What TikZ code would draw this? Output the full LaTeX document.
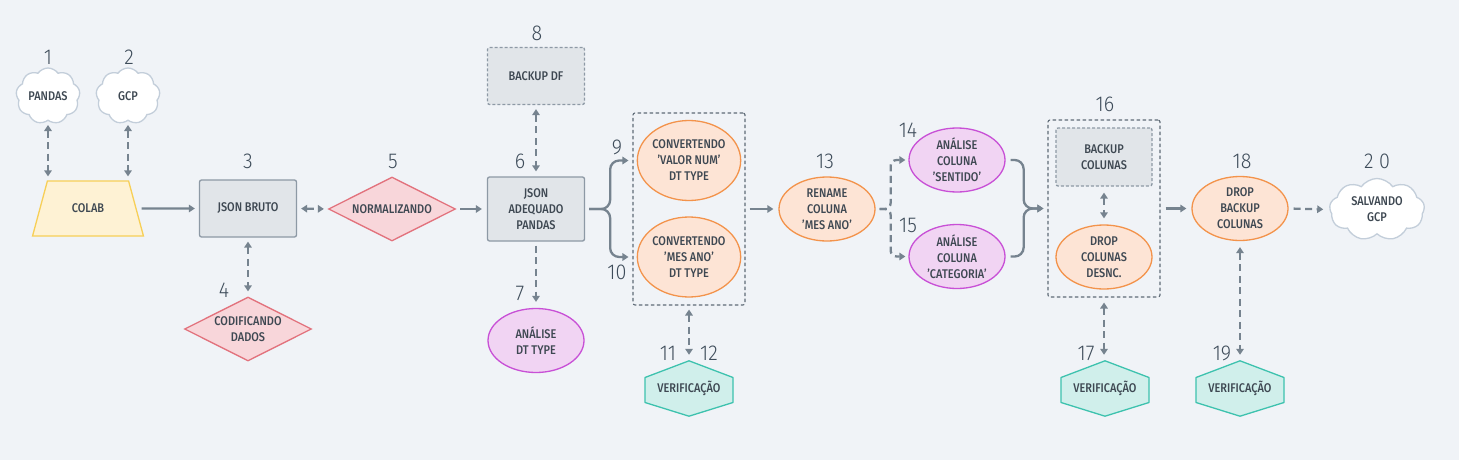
\documentclass[tikz,border=0pt]{standalone}
\usepackage{fontspec}
\setmainfont{Fira Sans Medium}[FakeStretch=0.87]
\newfontfamily\numfont{Fira Sans Light}[FakeStretch=0.92]
\usetikzlibrary{shapes.geometric,shapes.symbols,arrows.meta,calc}
\definecolor{bgc}{HTML}{F0F3F7}
\definecolor{textc}{HTML}{3E4852}
\definecolor{numc}{HTML}{3E4C5A}
\definecolor{arrc}{HTML}{76838F}
\definecolor{boxf}{HTML}{E1E5E9}
\definecolor{boxb}{HTML}{8D99A5}
\definecolor{grpc}{HTML}{5F6B77}
\definecolor{colf}{HTML}{FEF2D4}
\definecolor{colb}{HTML}{F7CF57}
\definecolor{diaf}{HTML}{F8D6DA}
\definecolor{diab}{HTML}{E2717C}
\definecolor{orf}{HTML}{FDE4D5}
\definecolor{orb}{HTML}{F3934B}
\definecolor{puf}{HTML}{F1D4F3}
\definecolor{pub}{HTML}{C850D6}
\definecolor{tef}{HTML}{D0EFEB}
\definecolor{teb}{HTML}{3DC2AE}
\definecolor{cldb}{HTML}{C3CEDA}
\pgfdeclarelayer{bottom}
\pgfdeclarelayer{back}
\pgfsetlayers{bottom,back,main}
\begin{document}
\begin{tikzpicture}[x=1pt,y=-1pt,
  txt/.style={font=\fontsize{12.6}{16}\selectfont, text=textc, align=center},
  num/.style={font=\numfont\fontsize{21.5}{21.5}\selectfont, text=numc, inner sep=0},
  graybox/.style={txt, draw=boxb, fill=boxf, line width=1.3pt, rounded corners=2pt, minimum width=97, minimum height=57},
  dgraybox/.style={graybox, dash pattern=on 3pt off 2pt},
  grp/.style={draw=grpc, dash pattern=on 3.5pt off 2.5pt, line width=1.1pt, rounded corners=2pt, minimum width=112},
  diam/.style={txt, diamond, aspect=2, draw=diab, fill=diaf, line width=1.3pt, inner sep=0, minimum width=127, minimum height=64},
  oell/.style={txt, ellipse, draw=orb, fill=orf, line width=1.3pt, inner sep=0, minimum width=96, minimum height=64},
  pell/.style={txt, ellipse, draw=pub, fill=puf, line width=1.3pt, inner sep=0, minimum width=96, minimum height=64},
  cld/.style={txt, cloud, cloud puffs=9, cloud puff arc=110, cloud ignores aspect, draw=cldb, fill=white, line width=1.3pt, inner sep=0, minimum width=64, minimum height=56},
  trap/.style={txt, trapezium, trapezium left angle=57, trapezium right angle=57, trapezium stretches=true, draw=colb, fill=colf, line width=1.3pt, minimum width=111, minimum height=55, inner sep=0},
  hexn/.style={txt, minimum width=88, minimum height=55, inner sep=0},
  hexs/.style={draw=teb, fill=tef, line width=1.3pt, line join=round},
  conn/.style={draw=arrc, line width=2.3pt, -{Triangle[length=6pt,width=7.5pt]}, shorten >=4pt, shorten <=4pt},
  dconn/.style={conn, dash pattern=on 7pt off 4.5pt},
  dd/.style={dconn, {Triangle[length=6pt,width=7.5pt]}-{Triangle[length=6pt,width=7.5pt]}}
]
\begin{pgfonlayer}{bottom}
\fill[bgc] (0,0) rectangle (1459,460);
\end{pgfonlayer}
\useasboundingbox (0,0) rectangle (1459,460);

% nodes
\node[cld] (pan) at (48,96) {PANDAS};
\node[cld] (gcp) at (128,96) {GCP};
\node[trap] (col) at (88,208.5) {COLAB};
\node[graybox] (jb) at (248,208.5) {JSON BRUTO};
\node[diam] (norm) at (392,209) {NORMALIZANDO};
\node[diam] (cod) at (248,329) {CODIFICANDO\\DADOS};
\node[graybox, minimum height=64] (ja) at (536,209) {JSON\\ADEQUADO\\PANDAS};
\node[dgraybox] (bk) at (536,76) {BACKUP DF};
\node[pell] (dt) at (536,340.5) {ANÁLISE\\DT TYPE};
\node[grp, minimum height=192] (g1) at (689,209) {};
\node[oell, minimum height=80] (e1) at (689,160.5) {CONVERTENDO\\'VALOR NUM'\\DT TYPE};
\node[oell, minimum height=80] (e2) at (689,257) {CONVERTENDO\\'MES ANO'\\DT TYPE};
\node[hexn] (v11) at (689,388.5) {VERIFICAÇÃO};
\node[oell] (rn) at (827,209) {RENAME\\COLUNA\\'MES ANO'};
\node[pell] (a14) at (957,160) {ANÁLISE\\COLUNA\\'SENTIDO'};
\node[pell] (a15) at (957,256.5) {ANÁLISE\\COLUNA\\'CATEGORIA'};
\node[grp, minimum height=177] (g2) at (1104,208.5) {};
\node[dgraybox, minimum width=96, minimum height=58] (bc) at (1104,157) {BACKUP\\COLUNAS};
\node[oell] (dc) at (1104,257) {DROP\\COLUNAS\\DESNC.};
\node[hexn] (v17) at (1105,388.5) {VERIFICAÇÃO};
\node[oell] (db) at (1240,208.5) {DROP\\BACKUP\\COLUNAS};
\node[hexn] (v19) at (1240,388.5) {VERIFICAÇÃO};
\node[cld, minimum width=95, minimum height=62] (sal) at (1377,209.5) {SALVANDO\\GCP};

% hexagons
\begin{pgfonlayer}{back}
\foreach \h in {v11,v17,v19}{
  \draw[hexs] (\h.north) -- ($(\h.center)+(44,-11)$) -- ($(\h.center)+(44,14)$) -- (\h.south)
    -- ($(\h.center)+(-44,14)$) -- ($(\h.center)+(-44,-11)$) -- cycle;
}
\end{pgfonlayer}

% numbers
\node[num] (n1) at (48,57) {1};
\node[num] (n2) at (129,57) {2};
\node[num] (n3) at (248,161) {3};
\node[num] (n4) at (224,290) {4};
\node[num] (n5) at (393,161) {5};
\node[num] (n6) at (520,161) {6};
\node[num] (n7) at (520,293) {7};
\node[num] (n8) at (537,33) {8};
\node[num] (n9) at (617,147) {9};
\node[num] (n10) at (617,272) {10};
\node[num] (n11) at (668,353) {11};
\node[num] (n12) at (709,353) {12};
\node[num] (n13) at (825,161) {13};
\node[num] (n14) at (908,130) {14};
\node[num] (n15) at (908,225) {15};
\node[num] (n16) at (1105,104) {16};
\node[num] (n17) at (1086,353) {17};
\node[num] (n18) at (1242,161) {18};
\node[num] (n19) at (1222,353) {19};
\node[num] (n20) at (1377,161) {2 0};

% connectors
\draw[dd] (pan.south) -- (pan.south |- col.north);
\draw[dd] (gcp.south) -- (gcp.south |- col.north);
\draw[conn, shorten <=5pt] (col.east) -- (jb.west);
\draw[dd] (jb.east) -- (norm.west);
\draw[dd, shorten >=5pt] (jb.south) -- (cod.north);
\draw[conn, shorten >=5pt] (norm.east) -- (ja.west);
\draw[dd, shorten >=5pt] (bk.south) -- (ja.north);
\draw[dconn, shorten >=6pt] (ja.south) -- (dt.north);
\draw[conn, rounded corners=9pt] (ja.east) -- ++(25,0) |- (g1.west |- e1.center);
\draw[conn, rounded corners=9pt] (ja.east) -- ++(25,0) |- (g1.west |- e2.center);
\draw[conn, shorten >=5pt] (g1.east) -- (rn.west);
\draw[dd, shorten >=6pt] (g1.south) -- (v11.north);
\draw[dconn, rounded corners=6pt, shorten >=3pt] (rn.east) -- ++(15,0) |- (a14.west);
\draw[dconn, rounded corners=6pt, shorten >=3pt] (rn.east) -- ++(15,0) |- (a15.west);
\draw[conn, rounded corners=9pt, shorten <=5pt] (a14.east) -- ++(18,0) |- (g2.west);
\draw[conn, rounded corners=9pt, shorten <=5pt] (a15.east) -- ++(18,0) |- (g2.west);
\draw[dd, shorten <=6pt, shorten >=6pt] (bc.south) -- (dc.north);
\draw[conn, shorten <=5pt, shorten >=5pt] (g2.east) -- (db.west);
\draw[dd, shorten <=5pt, shorten >=6pt] (g2.south) -- (g2.south |- v17.north);
\draw[dd, shorten <=6pt, shorten >=6pt] (db.south) -- (v19.north);
\draw[dconn, shorten <=5pt, shorten >=6pt] (db.east) -- (sal.west);
\end{tikzpicture}
\end{document}
